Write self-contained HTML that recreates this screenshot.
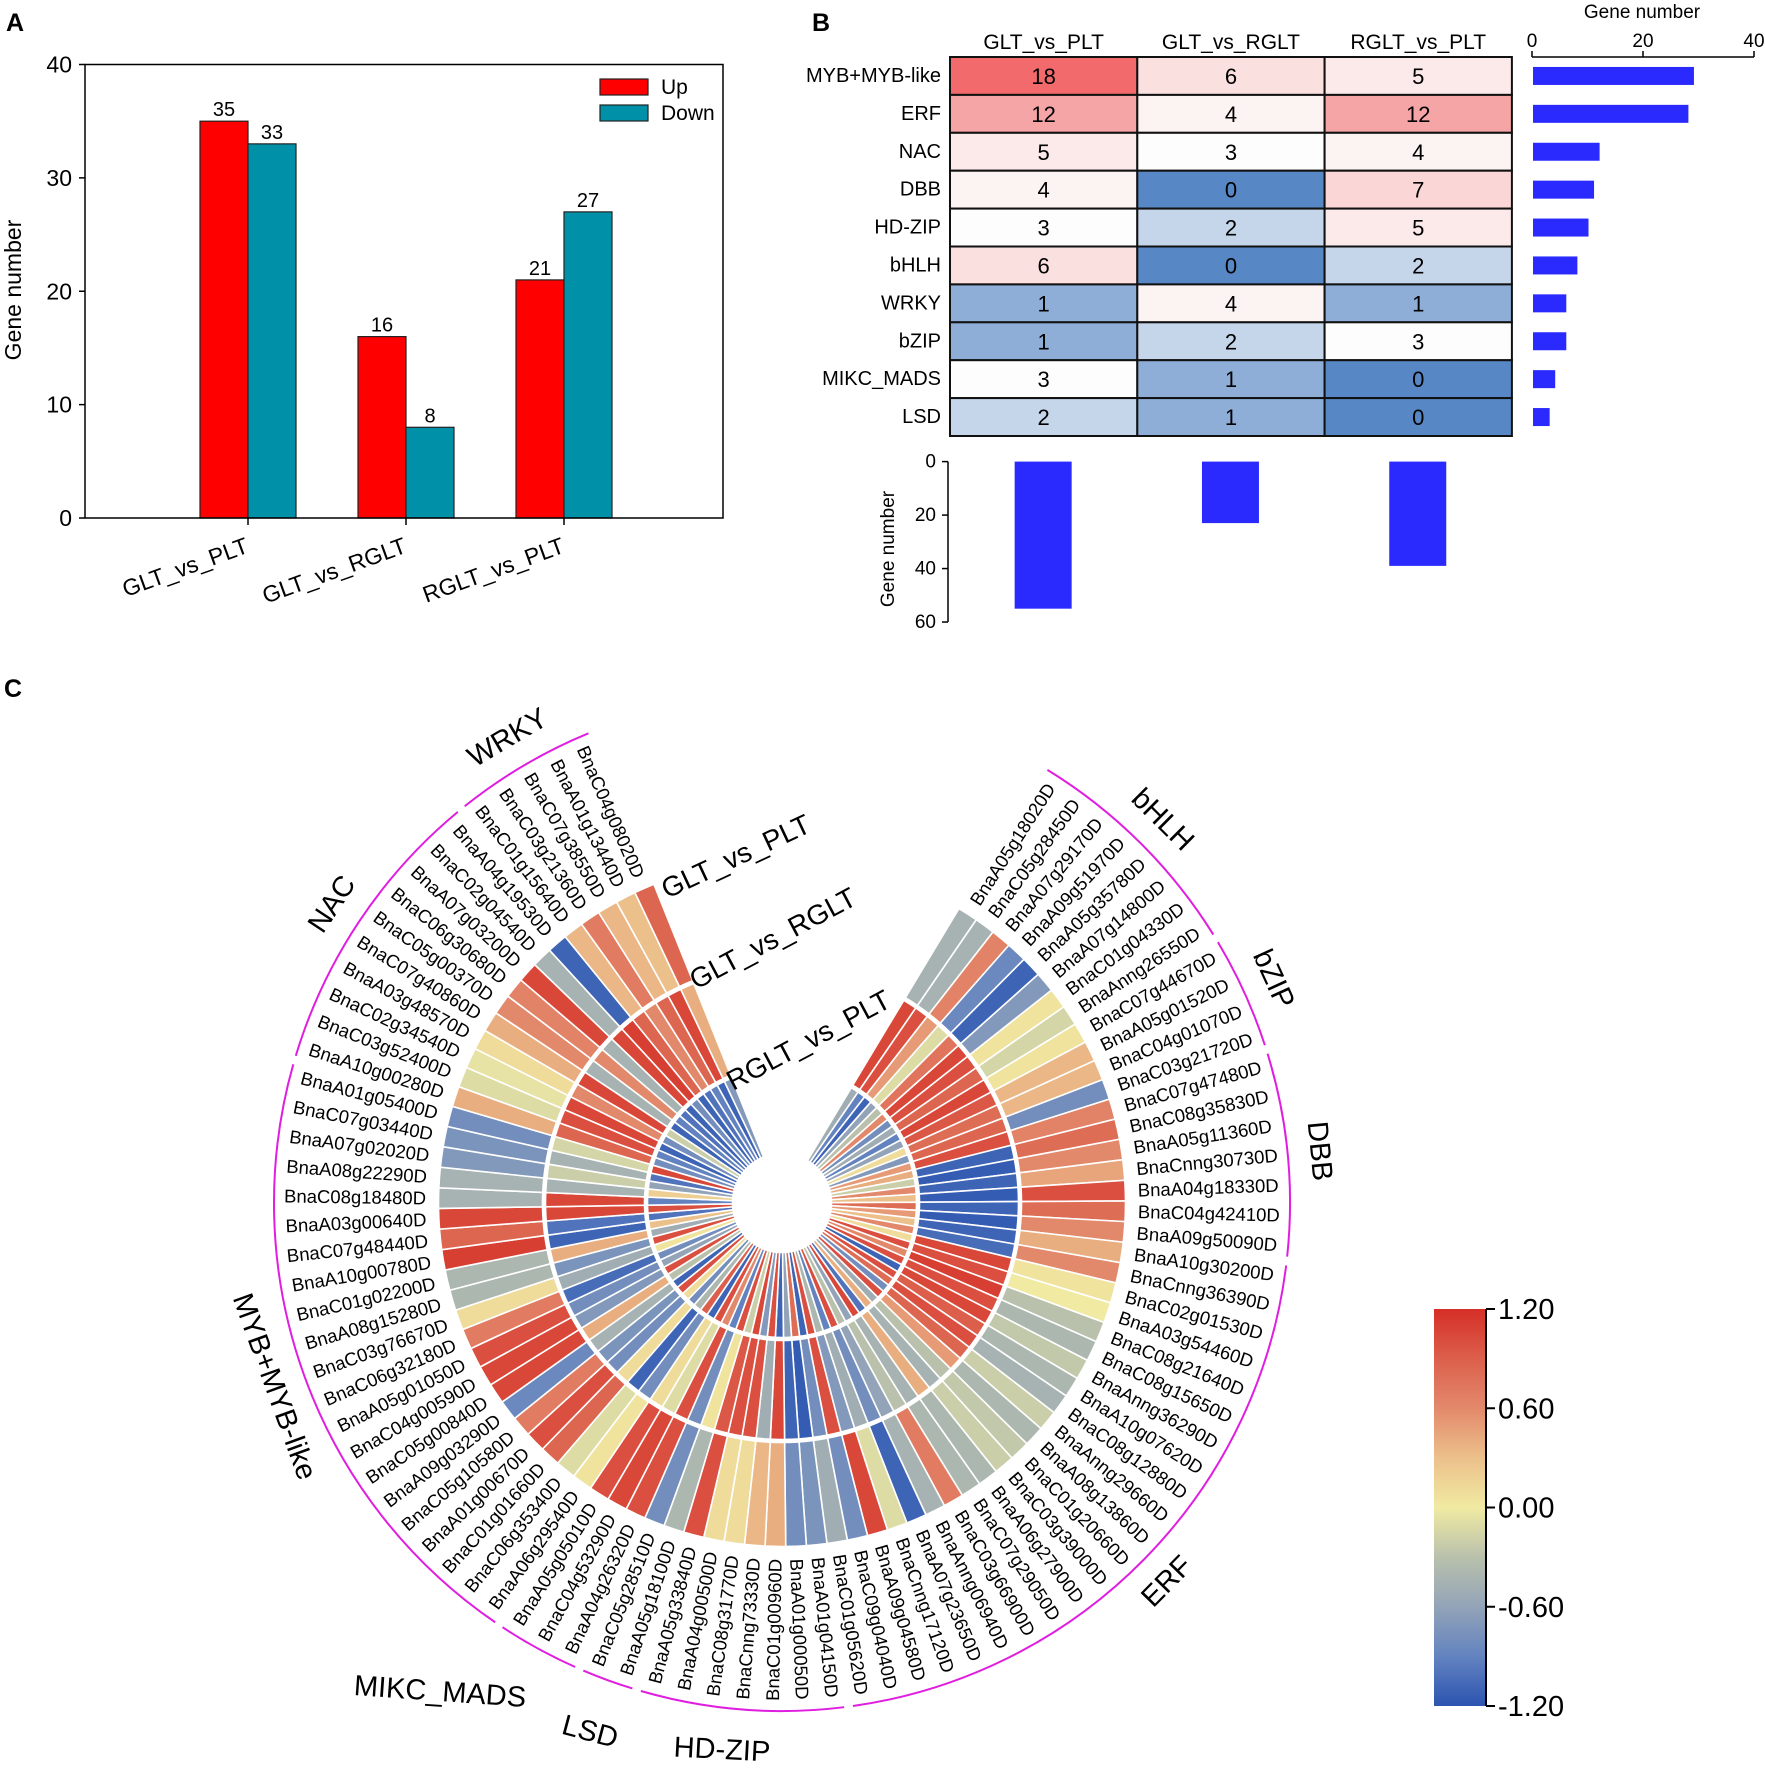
<!DOCTYPE html>
<html><head><meta charset="utf-8"><style>
html,body{margin:0;padding:0;background:#fff;}
svg{display:block;font-family:"Liberation Sans",Arial,sans-serif;}
</style></head><body>
<svg id="fig" width="1765" height="1772" viewBox="0 0 1765 1772" xmlns="http://www.w3.org/2000/svg">
<rect width="1765" height="1772" fill="#fff"/>
<text x="6" y="31" font-size="25" font-weight="bold">A</text>
<text x="812" y="31" font-size="25" font-weight="bold">B</text>
<text x="4" y="697" font-size="25" font-weight="bold">C</text>
<g id="pa"></g>
<g id="pb"></g>
<g id="pc"></g>
</svg>
<script>
// ---------- Panel A data ----------
const aCats = ["GLT_vs_PLT","GLT_vs_RGLT","RGLT_vs_PLT"];
const aUp = [35,16,21];
const aDown = [33,8,27];
const aTicks = [0,10,20,30,40];
// ---------- Panel B data ----------
const bRows = ["MYB+MYB-like","ERF","NAC","DBB","HD-ZIP","bHLH","WRKY","bZIP","MIKC_MADS","LSD"];
const bCols = ["GLT_vs_PLT","GLT_vs_RGLT","RGLT_vs_PLT"];
const bCol1 = [18,12,5,4,3,6,1,1,3,2];
const bCol2 = [6,4,3,0,2,0,4,2,1,1];
const bCol3 = [5,12,4,7,5,2,1,3,0,0];
const bRowTotals = [29,28,12,11,10,8,6,6,4,3];
const bColTotals = [55,23,39];
const bTopTicks = [0,20,40];
const bSideTicks = [0,20,40,60];
// ---------- Panel C data (clockwise from top-right) ----------
const cGenes = ["BnaA05g18020D","BnaC05g28450D","BnaA07g29170D","BnaA09g51970D","BnaA05g35780D","BnaA07g14800D","BnaC01g04330D","BnaAnng26550D","BnaC07g44670D","BnaA05g01520D","BnaC04g01070D","BnaC03g21720D","BnaC07g47480D","BnaC08g35830D","BnaA05g11360D","BnaCnng30730D","BnaA04g18330D","BnaC04g42410D","BnaA09g50090D","BnaA10g30200D","BnaCnng36390D","BnaC02g01530D","BnaA03g54460D","BnaC08g21640D","BnaC08g15650D","BnaAnng36290D","BnaA10g07620D","BnaC08g12880D","BnaAnng29660D","BnaA08g13860D","BnaC01g20660D","BnaC03g39000D","BnaA06g27900D","BnaC07g29050D","BnaC03g66900D","BnaAnng06940D","BnaA07g23650D","BnaCnng17120D","BnaA09g04580D","BnaC09g04040D","BnaC01g05620D","BnaA01g04150D","BnaA01g00050D","BnaC01g00960D","BnaCnng73330D","BnaC08g31770D","BnaA04g00500D","BnaA05g33840D","BnaA05g18100D","BnaC05g28510D","BnaA04g26320D","BnaC04g53290D","BnaA05g05010D","BnaA06g29540D","BnaC06g35340D","BnaC01g01660D","BnaA01g00670D","BnaC05g10580D","BnaA09g03290D","BnaC05g00840D","BnaC04g00590D","BnaA05g01050D","BnaC06g32180D","BnaC03g76670D","BnaA08g15280D","BnaC01g02200D","BnaA10g00780D","BnaC07g48440D","BnaA03g00640D","BnaC08g18480D","BnaA08g22290D","BnaA07g02020D","BnaC07g03440D","BnaA01g05400D","BnaA10g00280D","BnaC03g52400D","BnaC02g34540D","BnaA03g48570D","BnaC07g40860D","BnaC05g00370D","BnaC06g30680D","BnaA07g03200D","BnaC02g04540D","BnaA04g19530D","BnaC01g15640D","BnaC03g21360D","BnaC07g38550D","BnaA01g13440D","BnaC04g08020D"];
const cOuter = [-0.45,-0.45,0.65,-0.85,-1.1,-0.7,0.05,-0.15,0.05,0.35,0.35,-0.8,0.65,0.8,0.6,0.45,1.0,0.8,0.6,0.4,0.6,0.05,0.0,-0.3,-0.4,-0.25,-0.4,-0.45,-0.2,-0.4,-0.25,-0.2,-0.4,-0.4,0.7,-0.45,-1.1,-0.1,1.05,-0.8,-0.5,-0.75,-0.8,0.4,0.35,0.1,0.1,1.0,-0.4,-0.8,1.0,1.05,1.0,0.05,-0.1,0.85,1.0,0.7,-0.85,1.05,1.05,1.0,0.7,0.1,-0.4,-0.4,1.1,0.85,1.05,-0.45,-0.45,-0.7,-0.75,-0.8,0.4,-0.1,-0.05,0.1,0.4,0.6,0.65,1.05,-0.45,-1.1,0.35,0.7,0.35,0.3,0.85];
const cMiddle = [1.05,1.0,0.5,-0.1,0.75,1.05,1.0,0.85,1.05,0.95,0.8,0.85,1.0,-1.1,-1.15,-1.1,-1.15,-1.1,-1.15,-1.1,-1.05,1.05,1.0,1.1,1.0,1.05,0.9,1.0,0.85,0.5,-0.3,-0.45,0.4,-0.45,-0.3,-0.6,-0.8,-0.5,-0.7,1.0,-0.8,-1.15,-1.1,1.05,-0.5,1.0,1.0,0.95,0.05,-0.8,1.0,-0.1,0.1,-0.8,-1.1,0.1,-0.8,-0.75,-0.45,0.4,-0.7,-0.8,-1.05,-0.5,-0.75,0.4,-1.1,-1.0,1.05,1.05,-0.45,-0.2,-0.45,-0.15,0.85,1.0,1.05,0.6,1.05,-0.45,0.6,-0.45,1.05,1.1,0.85,0.6,0.85,1.05,0.4];
const cInner = [-0.5,-0.9,-1.1,-0.6,-0.3,0.6,-0.8,-0.5,-0.9,-0.6,0.1,-0.7,0.5,0.4,-0.2,0.6,0.3,0.8,0.5,0.3,0.6,0.1,1.0,0.6,1.0,-1.1,1.0,0.8,-0.8,1.0,-0.5,0.4,-1.0,1.05,-0.6,-0.3,1.0,-0.9,-0.4,1.0,-1.1,0.8,-0.6,-1.1,1.0,-0.7,1.05,-0.2,1.0,-0.9,0.6,1.0,-1.1,0.9,-0.4,-0.8,0.1,1.0,-1.1,-0.3,1.0,-0.6,-0.8,0.05,1.0,-0.5,0.3,-1.0,1.0,-0.9,0.2,-0.6,-1.0,1.05,-0.8,-0.9,-1.1,-0.8,-0.2,-1.1,-0.9,-1.0,-1.1,-0.8,-1.1,-1.0,-0.9,-1.1,-0.7];
const cGroups = ["bHLH","bZIP","DBB","ERF","HD-ZIP","LSD","MIKC_MADS","MYB+MYB-like","NAC","WRKY"];
const cGroupSizes = [8,4,7,22,7,2,3,21,10,5];
const cRingNames = ["GLT_vs_PLT","GLT_vs_RGLT","RGLT_vs_PLT"];
const cBarTicks = [1.2,0.6,0,-0.6,-1.2];
const cBarLabels = ["1.20","0.60","0.00","-0.60","-1.20"];

const NS="http://www.w3.org/2000/svg";
function mk(tag,attrs,parent,txt){const e=document.createElementNS(NS,tag);for(const k in attrs)e.setAttribute(k,attrs[k]);if(txt!==undefined)e.textContent=txt;parent.appendChild(e);return e;}

// ===== Panel A =====
(function(){
const g=document.getElementById('pa');
const x0=85,x1=723,yb=518,yt=64.5;
const y=v=>yb-(v/40)*(yb-yt);
const cx=i=>248+i*158;
const bw=48;
aCats.forEach((c,i)=>{
  let r=mk('rect',{x:cx(i)-bw,y:y(aUp[i]),width:bw,height:yb-y(aUp[i]),fill:'#ff0000',stroke:'#222','stroke-width':1.2},g);
  
  
  let d=mk('rect',{x:cx(i),y:y(aDown[i]),width:bw,height:yb-y(aDown[i]),fill:'#0090a8',stroke:'#222','stroke-width':1.2},g);
  
  
  let t1=mk('text',{x:cx(i)-bw/2,y:y(aUp[i])-5,'font-size':20,'text-anchor':'middle'},g,aUp[i]);
  
  
  let t2=mk('text',{x:cx(i)+bw/2,y:y(aDown[i])-5,'font-size':20,'text-anchor':'middle'},g,aDown[i]);
  
  
  mk('line',{x1:cx(i),x2:cx(i),y1:yb,y2:yb+7,stroke:'#000','stroke-width':1.5},g);
  let xl=mk('text',{x:0,y:0,'font-size':23,'text-anchor':'end',transform:`translate(${cx(i)+2},${yb+34}) rotate(-20)`},g,c);
  
  
});
let fr=mk('rect',{x:x0,y:yt,width:x1-x0,height:yb-yt,fill:'none',stroke:'#000','stroke-width':1.5},g);


aTicks.forEach(t=>{
  mk('line',{x1:x0-6,x2:x0,y1:y(t),y2:y(t),stroke:'#000','stroke-width':1.5},g);
  let tl=mk('text',{x:72,y:y(t)+8,'font-size':23,'text-anchor':'end'},g,t);
  
  
});
let yl=mk('text',{x:0,y:0,'font-size':23,'text-anchor':'middle',transform:'translate(21,290) rotate(-90)'},g,'Gene number');


let lr1=mk('rect',{x:600,y:79,width:48,height:16,fill:'#ff0000',stroke:'#222','stroke-width':1.2},g);


let lt1=mk('text',{x:661,y:94,'font-size':21},g,'Up');


let lr2=mk('rect',{x:600,y:105,width:48,height:16,fill:'#0090a8',stroke:'#222','stroke-width':1.2},g);


let lt2=mk('text',{x:661,y:120,'font-size':21},g,'Down');


})();

// ===== Panel B =====
(function(){
const g=document.getElementById('pb');
const L=950,T=57,cw=187.3,rh=37.9;
function col(v){
  const w=[253,253,253];
  let c,t;
  if(v>=3){c=[242,106,108];t=(v-3)/15;} else {c=[87,135,197];t=(3-v)/3;}
  return `rgb(${w.map((a,k)=>Math.round(a+(c[k]-a)*t)).join(',')})`;
}
const cols=[bCol1,bCol2,bCol3];
const xb=v=>1532+v*5.55;
bRows.forEach((r,i)=>{
  cols.forEach((arr,j)=>{
    let c=mk('rect',{x:L+j*cw,y:T+i*rh,width:cw,height:rh,fill:col(arr[i]),stroke:'#111','stroke-width':2},g);
    
    
    let t=mk('text',{x:L+j*cw+cw/2,y:T+i*rh+rh/2+8,'font-size':22,'text-anchor':'middle'},g,arr[i]);
    
    
  });
  let rl=mk('text',{x:941,y:T+i*rh+rh/2+6,'font-size':20,'text-anchor':'end'},g,r);
  
  
  let b=mk('rect',{x:xb(0)+1,y:T+i*rh+rh/2-9,width:xb(bRowTotals[i])-xb(0),height:18,fill:'#2a2aff'},g);
  
  
});
const yb=v=>461.6+v*2.674;
bCols.forEach((c,j)=>{
  let h=mk('text',{x:L+j*cw+cw/2,y:49,'font-size':21,'text-anchor':'middle'},g,c);
  
  
  let b=mk('rect',{x:L+j*cw+cw/2-29,y:yb(0),width:57,height:yb(bColTotals[j])-yb(0),fill:'#2a2aff'},g);
  
  
});
mk('line',{x1:1532,x2:1754,y1:57,y2:57,stroke:'#000','stroke-width':1.5},g);
bTopTicks.forEach(t=>{const x=xb(t);
  mk('line',{x1:x,x2:x,y1:51,y2:57,stroke:'#000','stroke-width':1.5},g);
  let tl=mk('text',{x:x,y:47,'font-size':19,'text-anchor':'middle'},g,t);
  
  });
let tt=mk('text',{x:1642,y:18,'font-size':19,'text-anchor':'middle'},g,'Gene number');


mk('line',{x1:948,x2:948,y1:461.6,y2:622,stroke:'#000','stroke-width':1.5},g);
bSideTicks.forEach(t=>{const y=yb(t);
  mk('line',{x1:942,x2:948,y1:y,y2:y,stroke:'#000','stroke-width':1.5},g);
  let tl=mk('text',{x:936,y:y+6,'font-size':19,'text-anchor':'end'},g,t);
  
  });
let st=mk('text',{x:0,y:0,'font-size':19,'text-anchor':'middle',transform:'translate(894,549) rotate(-90)'},g,'Gene number');


})();

// ===== Panel C =====
(function(){
const g=document.getElementById('pc');
const CX=782,CY=1203;
const radii=[345,238,136,48];
const a0=31, step=(338.1-31)/cGenes.length;
const stops=[[-1.2,[44,84,176]],[-0.9,[99,131,192]],[-0.6,[147,164,184]],[-0.3,[185,193,172]],[0,[240,234,162]],[0.3,[236,192,139]],[0.6,[227,137,107]],[0.9,[220,95,76]],[1.2,[214,47,39]]];
function cscale(v){v=Math.max(-1.2,Math.min(1.2,v));
  for(let k=0;k<stops.length-1;k++){const [v0,c0]=stops[k],[v1,c1]=stops[k+1];
    if(v<=v1){const t=(v-v0)/(v1-v0);return `rgb(${c0.map((a,q)=>Math.round(a+(c1[q]-a)*t)).join(',')})`;}}
  return 'rgb(214,47,39)';}
function pt(r,th){const a=th*Math.PI/180;return [CX+r*Math.sin(a),CY-r*Math.cos(a)];}
function sector(r0,r1,t0,t1){const p1=pt(r1,t0),p2=pt(r1,t1),p3=pt(r0,t1),p4=pt(r0,t0);
  return `M${p1[0]},${p1[1]}A${r1},${r1} 0 0 1 ${p2[0]},${p2[1]}L${p3[0]},${p3[1]}A${r0},${r0} 0 0 0 ${p4[0]},${p4[1]}Z`;}
const rings=[cOuter,cMiddle,cInner];
const ringNames=['ring-cell-glt-vs-plt','ring-cell-glt-vs-rglt','ring-cell-rglt-vs-plt'];
cGenes.forEach((gn,i)=>{
  const t0=a0+i*step,t1=t0+step,tm=t0+step/2;
  rings.forEach((arr,k)=>{
    let p=mk('path',{d:sector(radii[k+1]+1.5,radii[k]-1.5,t0,t1),fill:cscale(arr[i]),stroke:'#fff','stroke-width':1.6},g);
    
    
  });
  const pp=pt(356,tm);
  let tr,anchor;
  if(tm<180){tr=tm-90;anchor='start';}else{tr=tm+90;anchor='end';}
  let t=mk('text',{x:0,y:0,'font-size':18.5,'text-anchor':anchor,'dominant-baseline':'central',transform:`translate(${pp[0]},${pp[1]}) rotate(${tr})`},g,gn);
  
  
});
const fixedPos={"MIKC_MADS":[440,1692,4],"LSD":[590,1732,15],"HD-ZIP":[722,1750,3]};
let idx=0;
cGroups.forEach((gr,j)=>{
  const t0=a0+idx*step+0.5, t1=a0+(idx+cGroupSizes[j])*step-0.5, tm=(t0+t1)/2;
  idx+=cGroupSizes[j];
  const R=508,p1=pt(R,t0),p2=pt(R,t1);
  const large=(t1-t0)>180?1:0;
  let a=mk('path',{d:`M${p1[0]},${p1[1]}A${R},${R} 0 ${large} 1 ${p2[0]},${p2[1]}`,fill:'none',stroke:'#e01ee0','stroke-width':2},g);
  
  
  let lx,ly,rot;
  if(fixedPos[gr]){[lx,ly,rot]=fixedPos[gr];}
  else{const lp=pt(540,tm);lx=lp[0];ly=lp[1];rot=(tm>90&&tm<270)?tm-180:tm;}
  let t=mk('text',{x:0,y:0,'font-size':29,'text-anchor':'middle','dominant-baseline':'central',transform:`translate(${lx},${ly}) rotate(${rot})`},g,gr);
  
  
});
const rl=[[667,899,-25],[696,990,-28],[733,1091,-28]];
cRingNames.forEach((n,k)=>{
  let t=mk('text',{x:0,y:0,'font-size':28,transform:`translate(${rl[k][0]},${rl[k][1]}) rotate(${rl[k][2]})`},g,n);
  
  
});
const defs=mk('defs',{},g);
const lg=mk('linearGradient',{id:'cb',x1:0,y1:0,x2:0,y2:1},defs);
stops.slice().reverse().forEach((s,k)=>mk('stop',{offset:(k/(stops.length-1)),'stop-color':`rgb(${s[1].join(',')})`},lg));
const by0=1309,by1=1706;
let cb=mk('rect',{x:1434,y:by0,width:51,height:by1-by0,fill:'url(#cb)'},g);


mk('line',{x1:1486,x2:1486,y1:by0,y2:by1,stroke:'#000','stroke-width':2},g);
cBarTicks.forEach((v,k)=>{const y=by0+(1.2-v)/2.4*(by1-by0);
  mk('line',{x1:1486,x2:1495,y1:y,y2:y,stroke:'#000','stroke-width':2},g);
  let t=mk('text',{x:1498,y:y+10,'font-size':29},g,cBarLabels[k]);
  
  
});
})();
</script>
</body></html>
